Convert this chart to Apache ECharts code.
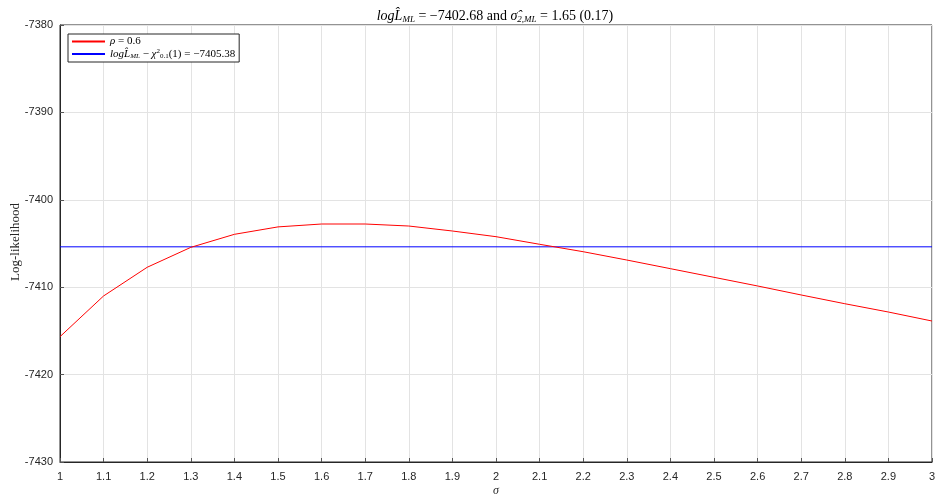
<!DOCTYPE html>
<html>
<head>
<meta charset="utf-8">
<script src="https://cdn.jsdelivr.net/npm/echarts@6/dist/echarts.min.js"></script>
<style>
  html, body { margin: 0; padding: 0; background: #fff; }
  #chart { width: 935px; height: 499px; }
</style>
</head>
<body>
<div id="chart"></div>
<script>
// Profile log-likelihood over sigma for rho = 0.6
const sigmaValues = [1.0, 1.1, 1.2, 1.3, 1.4, 1.5, 1.6, 1.7, 1.8, 1.9, 2.0,
                     2.1, 2.2, 2.3, 2.4, 2.5, 2.6, 2.7, 2.8, 2.9, 3.0];
const logLik = [-7415.66, -7411.0, -7407.72, -7405.44, -7403.95, -7403.1, -7402.77,
                -7402.77, -7403.0, -7403.57, -7404.22, -7405.09, -7405.94, -7406.89,
                -7407.88, -7408.87, -7409.86, -7410.89, -7411.89, -7412.84, -7413.87];
const threshold = -7405.38;
const xRange = [1, 3];
const yRange = [-7430, -7380];
const yTitle = 'Log-likelihood';

const serif = '"Liberation Serif", "DejaVu Serif", serif';
const sans = '"Liberation Sans", Arial, sans-serif';

const chart = echarts.init(document.getElementById('chart'));

chart.setOption({
  animation: false,
  title: {
    text: '{i|log}{i|L̂}{s|ML}{n| = −7402.68 and }{i|σ̂}{s|2,ML}{n| = 1.65 (0.17)}',
    left: 490,
    textAlign: 'center',
    top: 3,
    textStyle: {
      fontWeight: 'normal',
      rich: {
        i: { fontFamily: serif, fontSize: 14, fontStyle: 'italic', fontWeight: 'normal', color: '#000' },
        n: { fontFamily: serif, fontSize: 14, fontWeight: 'normal', color: '#000' },
        s: { fontFamily: serif, fontSize: 9, fontStyle: 'italic', fontWeight: 'normal', color: '#000', padding: [7, 0, 0, 0] }
      }
    }
  },
  // vertical axis title, placed beside the tick labels
  graphic: [{
    type: 'text',
    x: 16, y: 242,
    rotation: Math.PI / 2,
    style: {
      text: yTitle,
      font: '13px ' + serif,
      fill: '#262626',
      align: 'center',
      verticalAlign: 'middle'
    }
  }],
  grid: {
    left: 60, right: 3, top: 25, bottom: 37,
    outerBoundsMode: 'none',
    containLabel: false,
    show: true, borderColor: '#262626', borderWidth: 1
  },
  legend: {
    left: 68, top: 34,
    orient: 'vertical',
    itemWidth: 33, itemHeight: 2, itemGap: 1,
    padding: [2, 4, 2, 4],
    borderColor: '#262626', borderWidth: 1, borderRadius: 0,
    backgroundColor: '#fff',
    icon: 'rect',
    data: ['rho', 'thr'],
    formatter: function (name) {
      if (name === 'rho') return '{i|ρ}{n| = 0.6}';
      return '{i|log}{i|L̂}{s|ML}{n| − }{i|χ}{sp|2}{s2|0.1}{n|(1) = −7405.38}';
    },
    textStyle: {
      rich: {
        i: { fontFamily: serif, fontSize: 11, fontStyle: 'italic', color: '#000', lineHeight: 12 },
        n: { fontFamily: serif, fontSize: 11, color: '#000', lineHeight: 12 },
        s: { fontFamily: serif, fontSize: 7, fontStyle: 'italic', color: '#000', padding: [5, 0, 0, 0] },
        sp: { fontFamily: serif, fontSize: 7, color: '#000', padding: [0, 0, 5, 0] },
        s2: { fontFamily: serif, fontSize: 7, color: '#000', padding: [5, 0, 0, 0] }
      }
    }
  },
  xAxis: {
    type: 'value',
    min: xRange[0], max: xRange[1], interval: 0.1,
    name: 'σ',
    nameLocation: 'middle',
    nameGap: 23,
    nameMoveOverlap: false,
    nameTextStyle: { fontFamily: serif, fontStyle: 'italic', fontSize: 12, color: '#262626' },
    axisLine: { show: true, lineStyle: { color: '#262626' } },
    axisTick: { inside: true, length: 4, lineStyle: { color: '#555' } },
    axisLabel: {
      fontFamily: sans, fontSize: 11, color: '#262626', margin: 9,
      formatter: v => String(Math.round(v * 10) / 10)
    },
    splitLine: { show: true, lineStyle: { color: '#e3e3e3' } }
  },
  yAxis: {
    type: 'value',
    min: yRange[0], max: yRange[1], interval: 10,
    axisLine: { show: true, lineStyle: { color: '#262626' } },
    axisTick: { inside: true, length: 4, lineStyle: { color: '#555' } },
    axisLabel: {
      fontFamily: sans, fontSize: 11, color: '#262626', margin: 7,
      formatter: v => String(v)
    },
    splitLine: { show: true, lineStyle: { color: '#e3e3e3' } }
  },
  series: [
    {
      name: 'rho',
      type: 'line',
      data: sigmaValues.map((s, k) => [s, logLik[k]]),
      symbol: 'none',
      lineStyle: { color: '#ff0000', width: 1 },
      itemStyle: { color: '#ff0000' },
      z: 3
    },
    {
      name: 'thr',
      type: 'line',
      data: [[xRange[0], threshold], [xRange[1], threshold]],
      symbol: 'none',
      lineStyle: { color: '#0000ff', width: 1 },
      itemStyle: { color: '#0000ff' },
      z: 2
    }
  ]
});
</script>
</body>
</html>
